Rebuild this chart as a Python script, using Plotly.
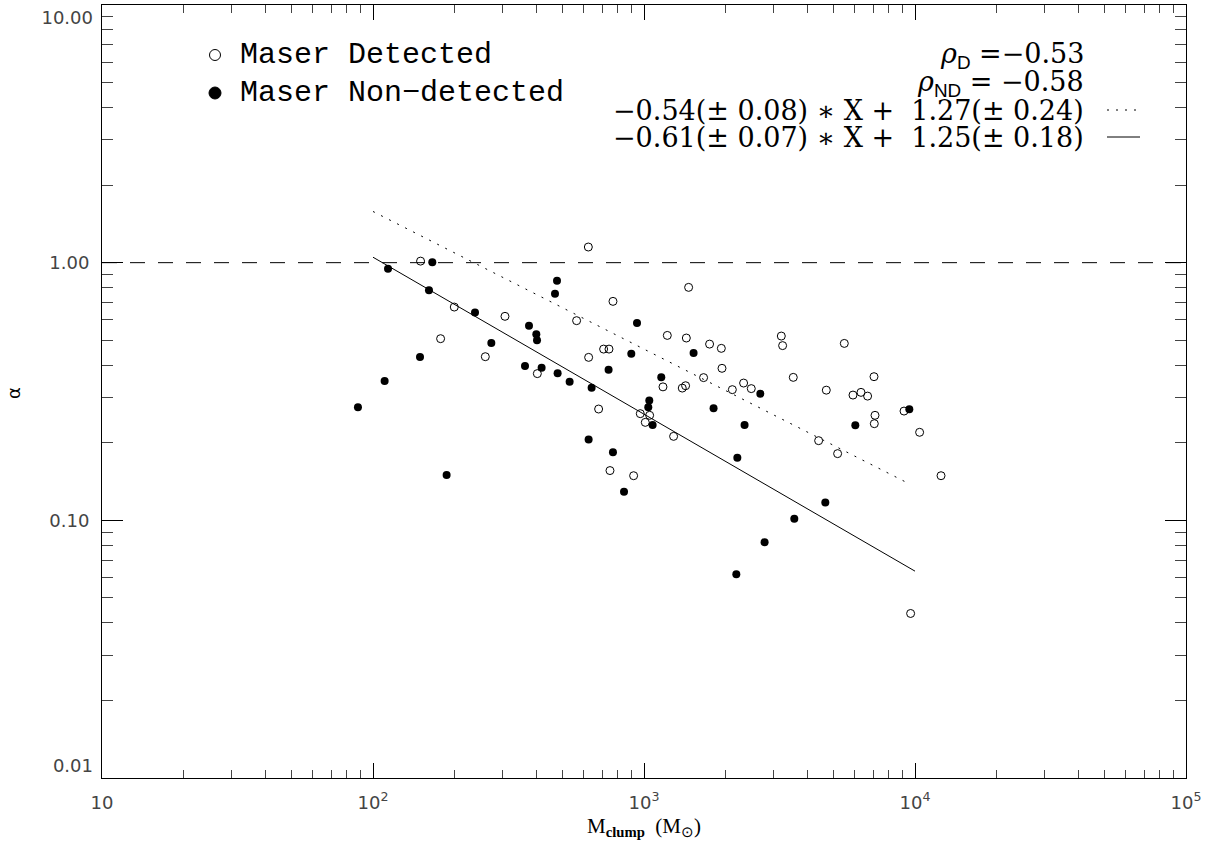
import plotly.graph_objects as go

# ---- data ----
det_mass = [149.8, 199.5, 177.6, 259.7, 306.9, 623.2, 768.3, 564.0, 1219, 709.5,
            742.7, 624.7, 404.0, 1175, 680, 969, 1049, 1011, 1286, 749,
            915.5, 1461, 1433, 1746, 1929, 1940, 1659, 1384, 1424, 2118,
            2331, 2488, 3211, 3247, 3555, 5484, 4707, 5904, 6320, 6685,
            7059, 7119, 7077, 9109, 10400, 4410, 5181, 12474, 9634]
det_alpha = [1.014, 0.6725, 0.507, 0.4316, 0.619, 1.15, 0.7077, 0.5955, 0.522, 0.462,
             0.462, 0.429, 0.371, 0.3296, 0.2704, 0.2594, 0.2556, 0.240, 0.2118, 0.156,
             0.149, 0.802, 0.510, 0.483, 0.465, 0.389, 0.358, 0.326, 0.333, 0.3215,
             0.341, 0.3245, 0.519, 0.4765, 0.3588, 0.486, 0.320, 0.3063, 0.3138, 0.3035,
             0.361, 0.2556, 0.2372, 0.2655, 0.2196, 0.2038, 0.1815, 0.149, 0.0435]

non_mass = [113.6, 165.5, 160.9, 237.9, 149.1, 110.4, 88.0, 186.9, 273.3, 477.5,
            469.4, 376.4, 400.5, 402.9, 363.8, 419.0, 480.0, 531.6, 640.8, 942.3,
            897.7, 740.2, 1158, 1046, 1037, 1076, 624.7, 768.2, 843.9, 1524,
            1806, 2687, 2350, 2210, 4667, 3586, 6022, 9528, 2786, 2191]
non_alpha = [0.948, 1.003, 0.781, 0.641, 0.430, 0.347, 0.2745, 0.150, 0.4875, 0.851,
             0.758, 0.569, 0.528, 0.4995, 0.397, 0.391, 0.372, 0.345, 0.327, 0.583,
             0.4434, 0.3844, 0.3588, 0.292, 0.2745, 0.2343, 0.2057, 0.1836, 0.1292, 0.4458,
             0.272, 0.310, 0.2343, 0.175, 0.1174, 0.1015, 0.2337, 0.2696, 0.0822, 0.0617]

fit_det_x = [100, 9600]
fit_det_y = [1.58, 0.138]
fit_non_x = [100, 10000]
fit_non_y = [1.05, 0.0635]
unity_x = [10, 100000]
unity_y = [1, 1]

x_tickvals = [10, 100, 1000, 10000, 100000]
x_ticktext = ["10", "10<sup>2</sup>", "10<sup>3</sup>", "10<sup>4</sup>", "10<sup>5</sup>"]
y_tickvals = [0.01, 0.1, 1, 10]
y_ticktext = ["0.01", "0.10", "1.00", "10.00"]

legend_labels = ["Maser Detected", "Maser Non\u2212detected"]
stats_lines = ["<i>\u03c1</i><sub><span style='font-family:Liberation Sans'>D</span></sub> =\u22120.53",
               "<i>\u03c1</i><sub><span style='font-family:Liberation Sans'>ND</span></sub> = \u22120.58",
               "\u22120.54(\u00b1 0.08) \u2217 X +  1.27(\u00b1 0.24)",
               "\u22120.61(\u00b1 0.07) \u2217 X +  1.25(\u00b1 0.18)"]

# ---- layout geometry (pixels) ----
W, H = 1217, 845
L, R, T, B = 102, 31, 5, 67
pw, ph = W - L - R, H - T - B


def px(x):
    return (x - L) / pw


def py(y):
    return (H - B - y) / ph


fig = go.Figure()

fig.add_trace(go.Scatter(x=unity_x, y=unity_y, mode="lines",
                         line=dict(color="black", width=1, dash="15px,13px"),
                         hoverinfo="skip"))
fig.add_trace(go.Scatter(x=fit_det_x, y=fit_det_y, mode="lines",
                         line=dict(color="black", width=1, dash="2px,7px"),
                         hoverinfo="skip"))
fig.add_trace(go.Scatter(x=fit_non_x, y=fit_non_y, mode="lines",
                         line=dict(color="black", width=1), hoverinfo="skip"))
fig.add_trace(go.Scatter(x=det_mass, y=det_alpha, mode="markers",
                         marker=dict(symbol="circle-open", size=8, color="black",
                                     line=dict(width=1, color="black"))))
fig.add_trace(go.Scatter(x=non_mass, y=non_alpha, mode="markers",
                         marker=dict(symbol="circle", size=8, color="black",
                                     line=dict(width=0))))
# empty traces so the label-only overlay axes are drawn
fig.add_trace(go.Scatter(x=[None], y=[None], yaxis="y2", hoverinfo="skip"))
fig.add_trace(go.Scatter(x=[None], y=[None], yaxis="y3", hoverinfo="skip"))

tick_font = dict(family="DejaVu Sans", size=18, color="#444444")
axis_common = dict(type="log", showline=True, linecolor="black", linewidth=1,
                   mirror="ticks", ticks="inside", tickcolor="black", tickwidth=1,
                   showgrid=False, zeroline=False, tickmode="array",
                   ticklabeloverflow="allow", automargin=False, tickfont=tick_font)

x_minor = [m * 10 ** k for k in range(1, 5) for m in range(2, 10)]
y_minor = [m * 10.0 ** k for k in range(-2, 1) for m in range(2, 10)]

fig.update_xaxes(**axis_common, range=[1, 5], tickvals=x_tickvals, ticktext=x_ticktext,
                 ticklen=15, ticklabelstandoff=8,
                 minor=dict(ticks="inside", ticklen=8, tickcolor="#444444", tickwidth=1,
                            tickmode="array", tickvals=x_minor, showgrid=False))
# main y axis: ticks for all decades, labels only for the inner ones
fig.update_yaxes(**axis_common, range=[-2, 1], tickvals=y_tickvals,
                 ticktext=["", y_ticktext[1], y_ticktext[2], ""],
                 ticklen=21, ticklabelstandoff=8,
                 minor=dict(ticks="inside", ticklen=11, tickcolor="#444444", tickwidth=1,
                            tickmode="array", tickvals=y_minor, showgrid=False))
# end labels kept inside the frame, as in the reference
edge_axis = dict(type="log", range=[-2, 1], overlaying="y", side="left", showline=False,
                 ticks="", showgrid=False, zeroline=False, tickmode="array",
                 ticklabeloverflow="allow", automargin=False, tickfont=tick_font,
                 ticklabelstandoff=8)
fig.update_layout(
    yaxis2=dict(**edge_axis, tickvals=[y_tickvals[3]], ticktext=[y_ticktext[3]],
                ticklabelposition="outside bottom"),
    yaxis3=dict(**edge_axis, tickvals=[y_tickvals[0]], ticktext=[y_ticktext[0]],
                ticklabelposition="outside top"),
)

ann = []
# axis titles
ann.append(dict(text="\u03b1", x=px(13), y=py(393), xref="paper", yref="paper",
                showarrow=False, textangle=-90, xanchor="center", yanchor="middle",
                font=dict(family="DejaVu Sans", size=18, color="black")))
ann.append(dict(text="M<sub><b>clump</b></sub>  (M<sub>\u2299</sub>)", x=px(644), y=py(827),
                xref="paper", yref="paper", showarrow=False, xanchor="center", yanchor="middle",
                font=dict(family="Liberation Serif", size=21, color="black")))
# legend
legend_y = [55, 93]
for lab, yy in zip(legend_labels, legend_y):
    ann.append(dict(text=lab, x=px(238), y=py(yy), xref="paper", yref="paper",
                    showarrow=False, xanchor="left", yanchor="middle",
                    font=dict(family="Liberation Mono", size=30, color="black")))
shapes = []
shapes.append(dict(type="circle", xref="paper", yref="paper", xsizemode="pixel",
                   ysizemode="pixel", xanchor=px(215), yanchor=py(legend_y[0]),
                   x0=-5.5, x1=5.5, y0=-5.5, y1=5.5,
                   line=dict(color="black", width=1), fillcolor="rgba(0,0,0,0)"))
shapes.append(dict(type="circle", xref="paper", yref="paper", xsizemode="pixel",
                   ysizemode="pixel", xanchor=px(215), yanchor=py(legend_y[1]),
                   x0=-6, x1=6, y0=-6, y1=6,
                   line=dict(color="black", width=1), fillcolor="black"))
# statistics text
stats_y = [56, 83, 110, 137]
for txt, yy in zip(stats_lines, stats_y):
    ann.append(dict(text=txt, x=px(1086), y=py(yy), xref="paper", yref="paper",
                    showarrow=False, xanchor="right", yanchor="middle",
                    font=dict(family="DejaVu Serif", size=27, color="black")))
shapes.append(dict(type="line", xref="paper", yref="paper", x0=px(1107), x1=px(1140),
                   y0=py(stats_y[2]), y1=py(stats_y[2]),
                   line=dict(color="black", width=1, dash="2px,7px")))
shapes.append(dict(type="line", xref="paper", yref="paper", x0=px(1107), x1=px(1140),
                   y0=py(stats_y[3]), y1=py(stats_y[3]),
                   line=dict(color="black", width=1)))

fig.update_layout(width=W, height=H, margin=dict(l=L, r=R, t=T, b=B, autoexpand=False),
                  paper_bgcolor="white", plot_bgcolor="white", showlegend=False,
                  annotations=ann, shapes=shapes)

fig.write_html("out.html")
